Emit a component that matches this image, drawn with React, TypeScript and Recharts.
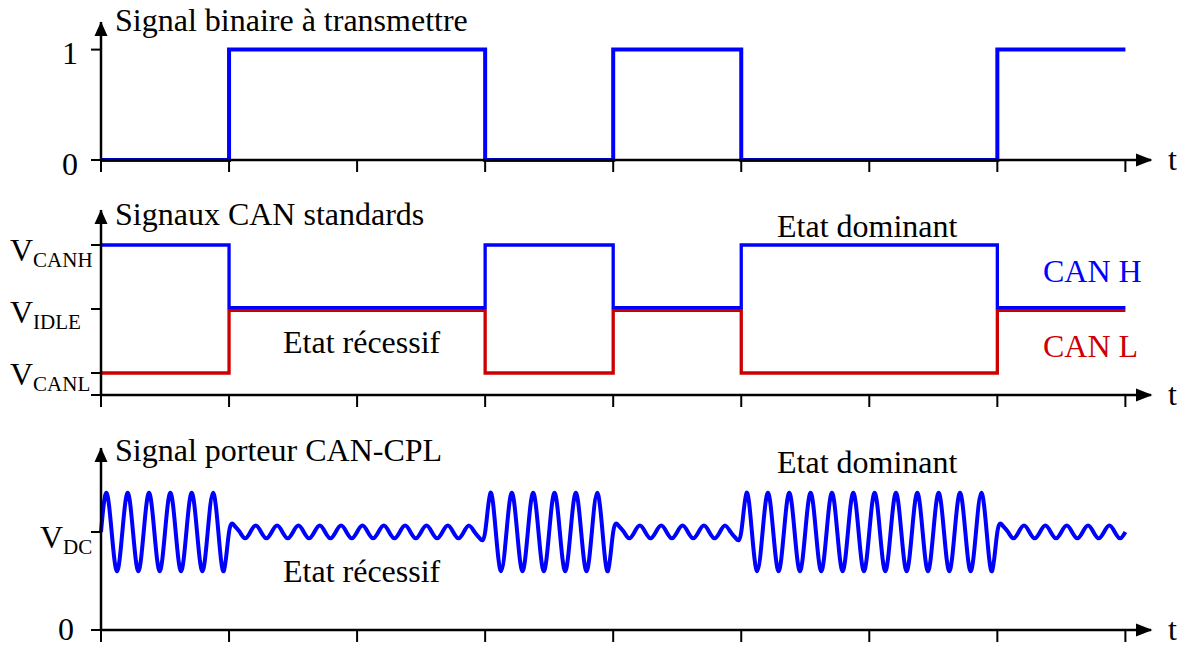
import { LineChart, Line, XAxis, YAxis, ReferenceDot } from 'recharts';

// time in bit periods
const bitTimes = [0, 1, 2, 3, 4, 5, 6, 7, 8];
const binarySignal = [0, 1, 1, 0, 1, 0, 0, 1, 1];

// CAN levels (V): dominant H=3.5 / L=1.5, recessive both ~2.5 (drawn just apart)
const canHigh = [3.5, 2.52, 2.52, 3.5, 2.52, 3.5, 3.5, 2.52, 2.52];
const canLow = [1.5, 2.48, 2.48, 1.5, 2.48, 1.5, 1.5, 2.48, 2.48];

// CPL carrier, relative to V_DC = 1
const vdc = 1;
const carrierAmplitude = [0.4, 0.065, 0.065, 0.4, 0.065, 0.4, 0.4, 0.065];
const cyclesPerBit = 6;
const quarterCycle = [0, 1, 0, -1];

const binaryData = bitTimes.map((t, i) => ({ t, v: binarySignal[i] }));
const canData = bitTimes.map((t, i) => ({ t, h: canHigh[i], l: canLow[i] }));

const carrierData: { t: number; v: number }[] = [];
carrierAmplitude.forEach((amp, k) => {
  for (let c = 0; c < cyclesPerBit; c++) {
    quarterCycle.forEach((q, i) => {
      carrierData.push({ t: k + (c + i / 4) / cyclesPerBit, v: vdc + amp * q });
    });
  }
});
carrierData.push({ t: 8, v: vdc });

const FONT = 'Liberation Serif';
const BLUE = '#0000ff';
const RED = '#cc0000';
const X_MAX = 8.2;

type TickDef = { value: number; main: string; sub?: string; x: number; dy: number; anchor?: string };

const binaryTicks: TickDef[] = [
  { value: 0, main: '0', x: 78, dy: 15, anchor: 'end' },
  { value: 1, main: '1', x: 78, dy: 14, anchor: 'end' },
];
const canTicks: TickDef[] = [
  { value: 1.156, main: '', x: 10, dy: 0 },
  { value: 1.5, main: 'V', sub: 'CANL', x: 10, dy: 12 },
  { value: 2.5, main: 'V', sub: 'IDLE', x: 10, dy: 14 },
  { value: 3.5, main: 'V', sub: 'CANH', x: 10, dy: 16 },
];
const carrierTicks: TickDef[] = [
  { value: 0, main: '0', x: 58, dy: 10 },
  { value: vdc, main: 'V', sub: 'DC', x: 40, dy: 16 },
];

const makeYTick = (defs: TickDef[]) => (props: any) => {
  const d = defs.find((e) => Math.abs(e.value - props.payload.value) < 1e-6);
  if (!d || !d.main) return <g />;
  return (
    <text x={d.x} y={props.y + d.dy} style={{ fontFamily: FONT }} fontSize={32} fill="#000" textAnchor={d.anchor || 'start'}>
      {d.main}
      {d.sub && (
        <tspan fontSize={21} dy={6}>
          {d.sub}
        </tspan>
      )}
    </text>
  );
};

const XArrow = (p: any) => (
  <polygon points={`${p.cx + 1.5},${p.cy} ${p.cx - 15},${p.cy - 6.5} ${p.cx - 15},${p.cy + 6.5}`} fill="#000" />
);
const YArrow = (p: any) => (
  <polygon points={`${p.cx},${p.cy - 0.5} ${p.cx - 6.5},${p.cy + 14} ${p.cx + 6.5},${p.cy + 14}`} fill="#000" />
);

const axisLine = { stroke: '#000', strokeWidth: 2.5 };
const tickLine = { stroke: '#000', strokeWidth: 2 };

function Panel({ data, height, top, marginTop, xAxisHeight, yDomain, yTicks, children }: any) {
  return (
    <div style={{ position: 'absolute', left: 0, top }}>
      <LineChart width={1185} height={height} data={data} margin={{ top: marginTop, right: 34, bottom: 0, left: 0 }}>
        <XAxis
          type="number"
          dataKey="t"
          domain={[0, X_MAX]}
          ticks={bitTimes}
          interval={0}
          tickSize={12}
          tick={() => <g />}
          height={xAxisHeight}
          axisLine={axisLine}
          tickLine={tickLine}
        />
        <YAxis
          type="number"
          domain={yDomain}
          ticks={yTicks.map((d: TickDef) => d.value)}
          interval={0}
          tickSize={10}
          width={101}
          tick={makeYTick(yTicks)}
          axisLine={axisLine}
          tickLine={tickLine}
        />
        <ReferenceDot x={X_MAX} y={yDomain[0]} r={0} ifOverflow="visible" shape={XArrow} />
        <ReferenceDot x={0} y={yDomain[1]} r={0} ifOverflow="visible" shape={YArrow} />
        {children}
      </LineChart>
    </div>
  );
}

const notes = [
  { text: 'Signal binaire à transmettre', x: 115, y: 31, fill: '#000' },
  { text: 'Signaux CAN standards', x: 115, y: 225, fill: '#000' },
  { text: 'Signal porteur CAN-CPL', x: 115, y: 461, fill: '#000' },
  { text: 't', x: 1168, y: 170, fill: '#000' },
  { text: 't', x: 1168, y: 405, fill: '#000' },
  { text: 't', x: 1168, y: 640, fill: '#000' },
  { text: 'Etat dominant', x: 777, y: 237, fill: '#000' },
  { text: 'Etat récessif', x: 283, y: 353, fill: '#000' },
  { text: 'CAN H', x: 1043, y: 282, fill: BLUE },
  { text: 'CAN L', x: 1043, y: 357, fill: RED },
  { text: 'Etat dominant', x: 777, y: 473, fill: '#000' },
  { text: 'Etat récessif', x: 283, y: 582, fill: '#000' },
];

export default function App() {
  return (
    <div style={{ position: 'absolute', left: 0, top: 0, width: 1185, height: 646, background: '#fff', overflow: 'hidden' }}>
      <Panel data={binaryData} height={185} top={0} marginTop={22} xAxisHeight={25} yDomain={[0, 1.25]} yTicks={binaryTicks}>
        <Line type="stepAfter" dataKey="v" stroke={BLUE} strokeWidth={4} dot={false} isAnimationActive={false} />
      </Panel>
      <Panel data={canData} height={235} top={185} marginTop={25} xAxisHeight={25} yDomain={[1.156, 4.047]} yTicks={canTicks}>
        <Line type="stepAfter" dataKey="l" stroke={RED} strokeWidth={3.3} dot={false} isAnimationActive={false} />
        <Line type="stepAfter" dataKey="h" stroke={BLUE} strokeWidth={3.3} dot={false} isAnimationActive={false} />
      </Panel>
      <Panel data={carrierData} height={226} top={420} marginTop={28} xAxisHeight={16} yDomain={[0, 1.857]} yTicks={carrierTicks}>
        <Line type="natural" dataKey="v" stroke={BLUE} strokeWidth={4} dot={false} isAnimationActive={false} />
      </Panel>
      <svg width={1185} height={646} style={{ position: 'absolute', left: 0, top: 0, pointerEvents: 'none' }}>
        {notes.map((n, i) => (
          <text key={i} x={n.x} y={n.y} style={{ fontFamily: FONT }} fontSize={32} fill={n.fill}>
            {n.text}
          </text>
        ))}
      </svg>
    </div>
  );
}
